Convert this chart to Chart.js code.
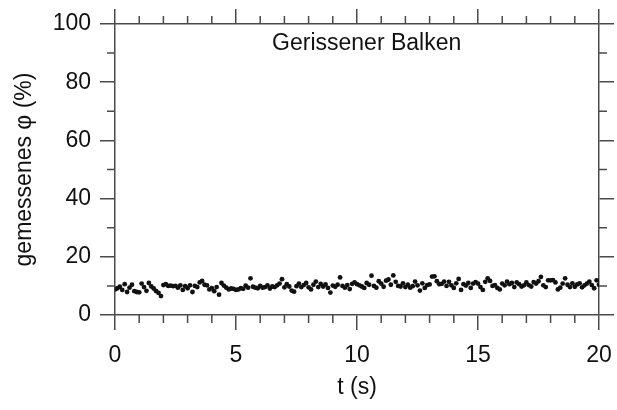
<!DOCTYPE html>
<html>
<head>
<meta charset="utf-8">
<script src="https://cdn.jsdelivr.net/npm/chart.js@4/dist/chart.umd.min.js"></script>
<style>
  html, body { margin: 0; padding: 0; background: #fff; }
  #wrap { width: 617px; height: 410px; position: relative; }
</style>
</head>
<body>
<div id="wrap"><canvas id="c"></canvas></div>
<script>
// Sample times (s)
const times = [
  0.0,0.1,0.2,0.3,0.4,0.5,0.6,0.7,0.8,0.9,
  1.0,1.1,1.2,1.3,1.4,1.5,1.6,1.7,1.8,1.9,
  2.0,2.1,2.2,2.3,2.4,2.5,2.6,2.7,2.8,2.9,
  3.0,3.1,3.2,3.3,3.4,3.5,3.6,3.7,3.8,3.9,
  4.0,4.1,4.2,4.3,4.4,4.5,4.6,4.7,4.8,4.9,
  5.0,5.1,5.2,5.3,5.4,5.5,5.6,5.7,5.8,5.9,
  6.0,6.1,6.2,6.3,6.4,6.5,6.6,6.7,6.8,6.9,
  7.0,7.1,7.2,7.3,7.4,7.5,7.6,7.7,7.8,7.9,
  8.0,8.1,8.2,8.3,8.4,8.5,8.6,8.7,8.8,8.9,
  9.0,9.1,9.2,9.3,9.4,9.5,9.6,9.7,9.8,9.9,
  10.0,10.1,10.2,10.3,10.4,10.5,10.6,10.7,10.8,10.9,
  11.0,11.1,11.2,11.3,11.4,11.5,11.6,11.7,11.8,11.9,
  12.0,12.1,12.2,12.3,12.4,12.5,12.6,12.7,12.8,12.9,
  13.0,13.1,13.2,13.3,13.4,13.5,13.6,13.7,13.8,13.9,
  14.0,14.1,14.2,14.3,14.4,14.5,14.6,14.7,14.8,14.9,
  15.0,15.1,15.2,15.3,15.4,15.5,15.6,15.7,15.8,15.9,
  16.0,16.1,16.2,16.3,16.4,16.5,16.6,16.7,16.8,16.9,
  17.0,17.1,17.2,17.3,17.4,17.5,17.6,17.7,17.8,17.9,
  18.0,18.1,18.2,18.3,18.4,18.5,18.6,18.7,18.8,18.9,
  19.0,19.1,19.2,19.3,19.4,19.5,19.6,19.7,19.8,19.9,
  20.0
];

// Measured phi (%) for the cracked beam
const phiMeasured = [
  8.8, 9.2, 9.7, 8.6,10.6, 7.9, 9.4,10.4, 8.2, 7.9,
  7.8,10.8, 9.6, 8.3,11.0, 9.8, 9.1, 8.2, 7.6, 6.5,
 10.3,10.6,10.0,10.1, 9.9,10.0, 9.4,10.2, 8.6, 9.9,
  9.2,10.2, 7.9,10.0, 9.6,11.2,11.7,10.4,10.2, 8.8,
  9.2, 8.2, 9.6, 7.0,11.0,10.1, 9.4, 8.8, 9.1, 9.0,
  8.6, 8.8, 9.2, 9.0,10.1, 9.4,12.6, 9.7, 9.4, 9.2,
 10.0, 9.4, 9.6,10.2, 9.1, 9.8, 9.6,10.2,10.8,12.3,
  9.5,10.6, 9.8, 8.4, 8.0, 9.9,10.8, 9.6,10.3,11.0,
  9.5, 8.8,10.4,11.5, 9.6,10.7, 9.8,10.5, 9.3, 7.7,
 10.1, 9.7,10.4,12.9,10.0, 9.4,10.3, 8.9,10.7,11.2,
 10.6,10.2, 9.8, 9.3,11.0,10.4,13.5,10.0, 9.4,11.6,
 10.8, 9.7,11.8,12.2,10.4,13.6,11.4,10.0, 9.8,10.9,
  9.6,10.4, 9.4, 9.9,11.5,10.2, 8.4,10.9, 9.3,10.3,
 10.5,13.2,13.3,11.6,10.6,10.7,11.5,10.0,11.4,10.2,
  9.3,10.9,12.4, 8.6,10.6,10.1,11.0, 9.3,10.8,11.3,
 10.8, 9.6, 8.6,11.4,12.6,11.7,10.0,10.3, 9.3, 8.8,
 10.8,10.2,11.5,10.6,11.0, 9.6,11.2,10.6, 9.8,10.2,
 11.2,10.3, 9.8,11.3,10.8,11.6,13.1,10.2, 9.6,11.9,
 11.9,12.0,11.2, 8.8, 9.4,10.8,12.6,10.4, 9.6,10.9,
  9.7,10.5,10.9, 9.5,10.2,10.8,11.5,10.3, 9.2,11.9,
 10.4
];

// Axis ranges and tick spacing
const xRange = [0, 20];
const yRange = [0, 100];
const xMajorStep = 5, xMinorStep = 1;
const yMajorStep = 20, yMinorStep = 10;

const chartTitle = 'Gerissener Balken';
const xTitle = 't (s)';
const yTitle = 'gemessenes \u03C6 (%)';

const points = times.map((t, i) => ({ x: t, y: phiMeasured[i] }));

const FONT = '"Liberation Sans", Arial, Helvetica, sans-serif';
const AXIS = '#4a4a4a';
const INK = '#111';
const MAJOR_LEN = 15, MINOR_LEN = 8;
const TEXT_SIZE = 23;

// Minor tick marks on all four sides plus the in-plot label
const framePlugin = {
  id: 'frame',
  afterDraw(chart, args, opts) {
    const ctx = chart.ctx;
    const a = chart.chartArea;
    const xs = chart.scales.x, ys = chart.scales.y;
    ctx.save();
    ctx.strokeStyle = AXIS;
    ctx.lineWidth = 1.5;
    ctx.beginPath();
    for (let v = xRange[0]; v <= xRange[1] + 1e-9; v += xMinorStep) {
      if (Math.abs(v % xMajorStep) < 1e-9) continue;
      const px = xs.getPixelForValue(v);
      ctx.moveTo(px, a.bottom); ctx.lineTo(px, a.bottom + MINOR_LEN);
      ctx.moveTo(px, a.top); ctx.lineTo(px, a.top - MINOR_LEN);
    }
    for (let v = yRange[0]; v <= yRange[1] + 1e-9; v += yMinorStep) {
      if (Math.abs(v % yMajorStep) < 1e-9) continue;
      const py = ys.getPixelForValue(v);
      ctx.moveTo(a.left, py); ctx.lineTo(a.left - MINOR_LEN, py);
      ctx.moveTo(a.right, py); ctx.lineTo(a.right + MINOR_LEN, py);
    }
    ctx.stroke();

    ctx.fillStyle = INK;
    ctx.font = TEXT_SIZE + 'px ' + FONT;
    ctx.textAlign = 'center';
    ctx.textBaseline = 'middle';
    ctx.fillText(opts.text, xs.getPixelForValue(opts.at[0]), ys.getPixelForValue(opts.at[1]));
    ctx.restore();
  }
};

// Fixed axis band sizes, without extra room for overhanging edge labels
function fixedSize(size) {
  return function (scale) {
    if (scale.isHorizontal()) scale.height = size; else scale.width = size;
    scale.paddingLeft = 0; scale.paddingRight = 0;
    scale.paddingTop = 0; scale.paddingBottom = 0;
  };
}

const majorGrid = {
  drawOnChartArea: false,
  drawTicks: true,
  tickLength: MAJOR_LEN,
  color: AXIS,
  tickColor: AXIS,
  tickWidth: 1.5,
  lineWidth: 1.5
};
const border = { display: true, color: AXIS, width: 1.5 };

new Chart(document.getElementById('c'), {
  type: 'scatter',
  data: {
    datasets: [{
      data: points,
      backgroundColor: '#111',
      borderColor: '#111',
      pointRadius: 2.4,
      pointBorderWidth: 0,
      pointHoverRadius: 2.4
    }]
  },
  options: {
    responsive: true,
    maintainAspectRatio: false,
    devicePixelRatio: 1,
    animation: false,
    layout: { padding: 0 },
    plugins: {
      legend: { display: false },
      tooltip: { enabled: false },
      frame: { text: chartTitle, at: [10.4, 93.3] }
    },
    scales: {
      x: {
        type: 'linear', position: 'bottom',
        min: xRange[0], max: xRange[1],
        ticks: { stepSize: xMajorStep, color: INK, font: { family: FONT, size: TEXT_SIZE }, padding: 12, maxRotation: 0 },
        grid: majorGrid, border: border,
        title: { display: true, text: xTitle, color: INK, font: { family: FONT, size: TEXT_SIZE }, padding: { top: 0, bottom: 9 } },
        afterFit: fixedSize(95)
      },
      x2: {
        type: 'linear', position: 'top',
        min: xRange[0], max: xRange[1],
        ticks: { stepSize: xMajorStep, display: false },
        grid: majorGrid, border: border,
        afterFit: fixedSize(24)
      },
      y: {
        type: 'linear', position: 'left',
        min: yRange[0], max: yRange[1],
        ticks: { stepSize: yMajorStep, color: INK, font: { family: FONT, size: TEXT_SIZE }, padding: 9 },
        grid: majorGrid, border: border,
        title: { display: true, text: yTitle, color: INK, font: { family: FONT, size: TEXT_SIZE }, padding: { top: 11, bottom: 0 } },
        afterFit: fixedSize(115)
      },
      y2: {
        type: 'linear', position: 'right',
        min: yRange[0], max: yRange[1],
        ticks: { stepSize: yMajorStep, display: false },
        grid: majorGrid, border: border,
        afterFit: fixedSize(18)
      }
    }
  },
  plugins: [framePlugin]
});
</script>
</body>
</html>
